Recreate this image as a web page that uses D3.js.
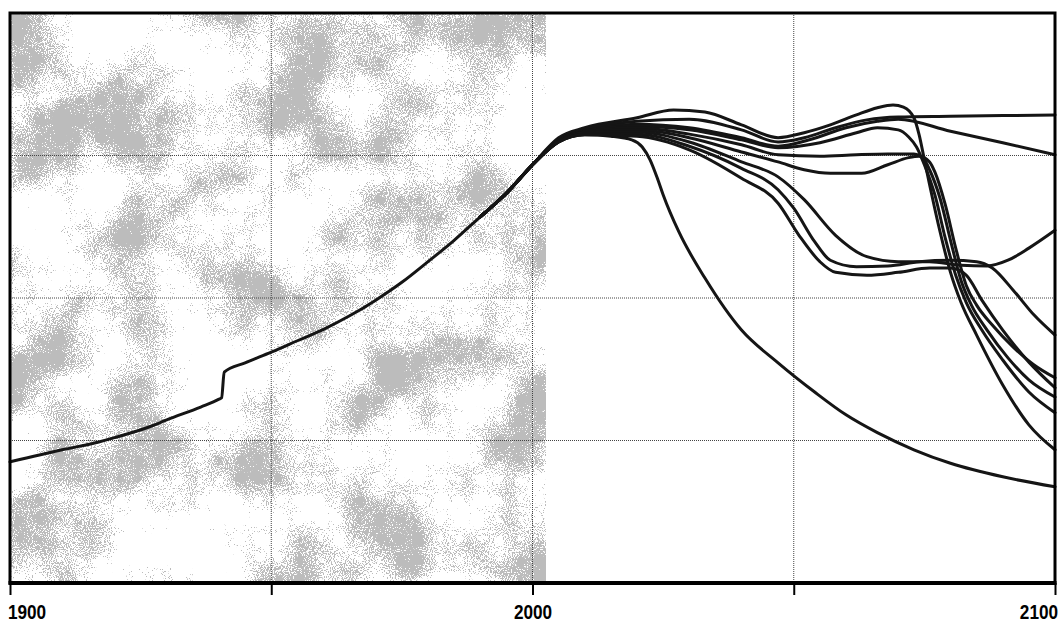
<!DOCTYPE html>
<html>
<head>
<meta charset="utf-8">
<script src="https://cdn.jsdelivr.net/npm/d3@7"></script>
<style>
  html, body { margin: 0; padding: 0; background: #fff; }
  svg { display: block; }
</style>
</head>
<body>
<div id="chart"></div>
<script>
// ---------------- DATA ----------------
const xTicks = [1900, 1950, 2000, 2050, 2100];
const xTickLabels = ["1900", "", "2000", "", "2100"];
const yGrid = [2, 4, 6];
const shadeStart = 1900, shadeEnd = 2002.5;

const histYears  = [1900, 1910, 1917, 1920, 1927, 1930, 1936.5, 1940, 1940.5, 1941, 1945, 1950, 1955, 1960, 1965, 1970, 1975, 1980, 1985, 1990, 1995, 2000];
const histValues = [1.70, 1.87, 1.98, 2.04, 2.20, 2.29, 2.47, 2.58, 2.60, 2.96, 3.09, 3.24, 3.40, 3.56, 3.75, 3.97, 4.22, 4.51, 4.81, 5.14, 5.47, 5.87];

const scenarioA = [[2000,5.87],[2005,6.19],[2010,6.29],[2015,6.27],[2019,6.22],[2021,6.12],[2022.5,5.94],[2024,5.66],[2025,5.45],[2028,4.93],[2033,4.28],[2040,3.55],[2047,3.09],[2054,2.68],[2060,2.36],[2066,2.11],[2073,1.87],[2080,1.68],[2090,1.49],[2100,1.35]];
const scenarioPeak = [[2000,5.87],[2005,6.25],[2010,6.39],[2020,6.53],[2027,6.64],[2033,6.61],[2040,6.43],[2047,6.25],[2052,6.32],[2057,6.43],[2062,6.57],[2066,6.67],[2069,6.71],[2071,6.68],[2073,6.53],[2074,6.29],[2075,5.94],[2076,5.59],[2078,4.93],[2080,4.36],[2082,3.94],[2085,3.48],[2090,2.78],[2095,2.22],[2100,1.87]];
const scenarioFlat = [[2000,5.87],[2005,6.22],[2010,6.36],[2020,6.48],[2030,6.51],[2040,6.36],[2047,6.19],[2052,6.25],[2058,6.39],[2064,6.50],[2070,6.54],[2080,6.55],[2100,6.57]];
const scenarioSlope = [[2000,5.87],[2005,6.22],[2010,6.34],[2020,6.44],[2030,6.39],[2040,6.25],[2047,6.13],[2053,6.22],[2060,6.39],[2066,6.48],[2070,6.51],[2080,6.34],[2090,6.18],[2100,6.01]];
const scenarioC3 = [[2000,5.87],[2005,6.22],[2010,6.34],[2020,6.41],[2030,6.36],[2040,6.22],[2047,6.11],[2055,6.18],[2062,6.32],[2066,6.39],[2070,6.36],[2072,6.26],[2073.5,6.12],[2075,5.87],[2077,5.45],[2079,4.84],[2081,4.32],[2083,3.94],[2086,3.55],[2090,3.13],[2095,2.68],[2100,2.39]];
const scenarioC4 = [[2000,5.87],[2005,6.20],[2010,6.33],[2020,6.39],[2030,6.30],[2040,6.15],[2047,6.01],[2055,5.99],[2062,6.01],[2068,6.02],[2073,6.02],[2075,5.94],[2076,5.80],[2078,5.40],[2080,4.81],[2082,4.25],[2084,3.90],[2087,3.55],[2091,3.16],[2095,2.85],[2100,2.61]];
const scenarioC5 = [[2000,5.87],[2005,6.20],[2010,6.32],[2020,6.36],[2030,6.25],[2040,6.05],[2047,5.91],[2052,5.80],[2057,5.75],[2063,5.75],[2068,5.87],[2072,5.97],[2074,5.99],[2076,5.91],[2077,5.77],[2079,5.31],[2081,4.70],[2083,4.18],[2085,3.90],[2088,3.62],[2092,3.31],[2096,3.06],[2100,2.88]];
const scenarioG = [[2000,5.87],[2005,6.20],[2010,6.32],[2020,6.33],[2030,6.19],[2040,5.91],[2047,5.70],[2052,5.38],[2058,4.88],[2064,4.58],[2070,4.51],[2076,4.51],[2082,4.46],[2087,4.45],[2091,4.53],[2095,4.70],[2100,4.95]];
const scenarioF1 = [[2000,5.87],[2005,6.19],[2010,6.30],[2020,6.30],[2030,6.13],[2040,5.82],[2047,5.52],[2050,5.26],[2054,4.79],[2057,4.53],[2062,4.44],[2068,4.45],[2074,4.51],[2080,4.53],[2085,4.51],[2088,4.42],[2092,4.11],[2096,3.76],[2100,3.48]];
const scenarioF2 = [[2000,5.87],[2005,6.19],[2010,6.29],[2020,6.27],[2030,6.08],[2040,5.68],[2047,5.33],[2051,4.88],[2055,4.51],[2058,4.36],[2064,4.32],[2070,4.36],[2076,4.42],[2080,4.42],[2083,4.32],[2086,3.97],[2090,3.55],[2095,3.10],[2100,2.74]];

const scenarios = [scenarioA, scenarioPeak, scenarioFlat, scenarioSlope, scenarioC3, scenarioC4, scenarioC5, scenarioG, scenarioF1, scenarioF2];

// ---------------- CHART ----------------
const W = 1061, H = 624;
const pLeft = 10, pRight = 1055, pTop = 13, pBottom = 583;

const svg = d3.select("#chart").append("svg").attr("width", W).attr("height", H);

const x = d3.scaleLinear().domain([1900, 2100]).range([pLeft, pRight]);
const y = d3.scaleLinear().domain([0, 8]).range([pBottom, pTop]);

const defs = svg.append("defs");
const f = defs.append("filter").attr("id", "stipple")
  .attr("x", 0).attr("y", 0).attr("width", 1).attr("height", 1);
f.append("feTurbulence").attr("type", "fractalNoise").attr("baseFrequency", 0.012)
  .attr("numOctaves", 3).attr("seed", 11).attr("result", "blotRaw");
f.append("feColorMatrix").attr("in", "blotRaw").attr("type", "matrix")
  .attr("values", "1 0 0 0 0  1 0 0 0 0  1 0 0 0 0  0 0 0 0 1").attr("result", "blot");
f.append("feTurbulence").attr("type", "fractalNoise").attr("baseFrequency", 0.95)
  .attr("numOctaves", 1).attr("seed", 3).attr("result", "grainRaw");
f.append("feColorMatrix").attr("in", "grainRaw").attr("type", "matrix")
  .attr("values", "1 0 0 0 0  1 0 0 0 0  1 0 0 0 0  0 0 0 0 1").attr("result", "grain");
f.append("feComposite").attr("in", "blot").attr("in2", "grain").attr("operator", "arithmetic")
  .attr("k1", 0).attr("k2", 1.3).attr("k3", 1.1).attr("k4", -0.78).attr("result", "mix");
f.append("feColorMatrix").attr("in", "mix").attr("type", "matrix")
  .attr("values", "0 0 0 0 0.5  0 0 0 0 0.5  0 0 0 0 0.5  30 0 0 0 -15");

// shaded historical band
svg.append("rect")
  .attr("x", x(shadeStart)).attr("y", pTop)
  .attr("width", x(shadeEnd) - x(shadeStart)).attr("height", pBottom - pTop)
  .attr("fill", "#fff")
  .attr("filter", "url(#stipple)");

// grid lines
svg.append("g").selectAll("line").data(yGrid).join("line")
  .attr("x1", pLeft).attr("x2", pRight)
  .attr("y1", d => y(d)).attr("y2", d => y(d))
  .attr("stroke", "#444").attr("stroke-width", 1).attr("stroke-dasharray", "1,1");
svg.append("g").selectAll("line").data(xTicks.slice(1, -1)).join("line")
  .attr("x1", d => x(d)).attr("x2", d => x(d))
  .attr("y1", pTop).attr("y2", pBottom)
  .attr("stroke", "#444").attr("stroke-width", 1).attr("stroke-dasharray", "1,1");

// lines
const line = d3.line().x(d => x(d[0])).y(d => y(d[1])).curve(d3.curveMonotoneX);
const hist = histYears.map((yr, i) => [yr, histValues[i]]);
const lastHist = hist.slice(-3, -1);

const lines = svg.append("g").attr("fill", "none").attr("stroke", "#151515")
  .attr("stroke-width", 3).attr("stroke-linejoin", "round").attr("stroke-linecap", "round");
scenarios.forEach(s => {
  lines.append("path").attr("d", line(lastHist.concat(s)));
});
lines.append("path").attr("d", line(hist));

// frame
svg.append("rect").attr("x", pLeft).attr("y", pTop)
  .attr("width", pRight - pLeft).attr("height", pBottom - pTop)
  .attr("fill", "none").attr("stroke", "#000").attr("stroke-width", 3);
svg.append("line").attr("x1", pLeft - 1.5).attr("x2", pRight + 1.5).attr("y1", pBottom).attr("y2", pBottom)
  .attr("stroke", "#000").attr("stroke-width", 4);

// x axis ticks
const axis = d3.axisBottom(x).tickValues(xTicks).tickSize(12)
  .tickFormat((d, i) => xTickLabels[i]);
const ax = svg.append("g").attr("transform", `translate(0,${pBottom})`).call(axis);
ax.select(".domain").remove();
ax.selectAll(".tick line").attr("stroke", "#000").attr("stroke-width", 2);
ax.selectAll(".tick text")
  .attr("font-family", "'Liberation Sans', Arial, sans-serif")
  .attr("font-weight", "bold").attr("font-size", 20).attr("fill", "#000")
  .attr("dy", 0).attr("y", 36)
  .attr("transform", "scale(0.86,1)")
  .attr("text-anchor", (d, i) => i === 0 ? "start" : (i === xTicks.length - 1 ? "end" : "middle"))
  .attr("dx", (d, i) => i === 0 ? -3 : (i === xTicks.length - 1 ? 3 : 0));
</script>
</body>
</html>
